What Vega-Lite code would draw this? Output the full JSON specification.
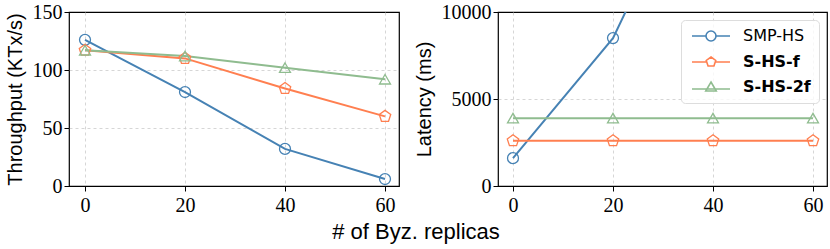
{
  "$schema": "https://vega.github.io/schema/vega-lite/v6.json",
  "padding": {"left": 4, "top": 1, "right": 3, "bottom": 2},
  "background": "white",
  "datasets": {
    "tp": [
      {"x": 0, "v": 126, "s": "SMP-HS"}, {"x": 20, "v": 81, "s": "SMP-HS"}, {"x": 40, "v": 32, "s": "SMP-HS"}, {"x": 60, "v": 6, "s": "SMP-HS"},
      {"x": 0, "v": 117, "s": "S-HS-f"}, {"x": 20, "v": 110, "s": "S-HS-f"}, {"x": 40, "v": 84, "s": "S-HS-f"}, {"x": 60, "v": 60, "s": "S-HS-f"},
      {"x": 0, "v": 117, "s": "S-HS-2f"}, {"x": 20, "v": 112, "s": "S-HS-2f"}, {"x": 40, "v": 102, "s": "S-HS-2f"}, {"x": 60, "v": 92, "s": "S-HS-2f"}
    ],
    "lat": [
      {"x": 0, "v": 1600, "s": "SMP-HS"}, {"x": 20, "v": 8500, "s": "SMP-HS"}, {"x": 40, "v": 20500, "s": "SMP-HS"}, {"x": 60, "v": 33000, "s": "SMP-HS"},
      {"x": 0, "v": 2600, "s": "S-HS-f"}, {"x": 20, "v": 2600, "s": "S-HS-f"}, {"x": 40, "v": 2600, "s": "S-HS-f"}, {"x": 60, "v": 2600, "s": "S-HS-f"},
      {"x": 0, "v": 3900, "s": "S-HS-2f"}, {"x": 20, "v": 3900, "s": "S-HS-2f"}, {"x": 40, "v": 3900, "s": "S-HS-2f"}, {"x": 60, "v": 3900, "s": "S-HS-2f"}
    ]
  },
  "title": {"text": "# of Byz. replicas", "orient": "bottom", "anchor": "middle", "font": "Liberation Sans", "fontSize": 22, "fontWeight": "normal", "color": "black", "offset": 6},
  "config": {
    "view": {"stroke": "black", "strokeWidth": 1.2},
    "axis": {
      "labelFont": "Liberation Serif", "labelFontSize": 20, "labelColor": "black",
      "titleFont": "Liberation Sans", "titleFontSize": 20, "titleFontWeight": "normal", "titleColor": "black",
      "domain": false, "tickColor": "black", "tickSize": 5,
      "gridColor": "#cccccc", "gridDash": [3, 3], "gridWidth": 0.8
    },
    "legend": {
      "labelFont": "DejaVu Sans", "labelFontSize": 16, "labelColor": "black",
      "symbolSize": 100, "symbolStrokeWidth": 1.6, "labelOffset": 24, "rowPadding": 8, "padding": 8,
      "fillColor": "rgba(255,255,255,0.8)", "strokeColor": "#dddddd", "cornerRadius": 4, "symbolOffset": 14
    }
  },
  "spacing": 13,
  "resolve": {"scale": {"color": "independent", "y": "independent"}, "legend": {"color": "independent"}},
  "hconcat": [
    {
      "width": 330, "height": 174,
      "data": {"name": "tp"},
      "encoding": {
        "x": {"field": "x", "type": "quantitative", "scale": {"domain": [-3.2, 62.8], "nice": false}, "axis": {"values": [0, 20, 40, 60], "title": null, "labelPadding": 4}},
        "y": {"field": "v", "type": "quantitative", "scale": {"domain": [0, 150], "nice": false}, "axis": {"values": [0, 50, 100, 150], "title": "Throughput (KTx/s)", "titlePadding": 7, "gridOpacity": {"condition": {"test": "datum.value == 0 || datum.value == 150", "value": 0}, "value": 1}}},
        "color": {"field": "s", "type": "nominal", "scale": {"domain": ["SMP-HS", "S-HS-f", "S-HS-2f"], "range": ["#4682b4", "#ff7f50", "#8fbc8f"]}, "legend": null}
      },
      "layer": [
        {"mark": {"type": "line", "strokeWidth": 2}},
        {"mark": {"type": "point", "filled": false, "size": 120, "strokeWidth": 1.3, "opacity": 1},
         "encoding": {"shape": {"condition": [{"test": "datum.s === 'SMP-HS'", "value": "circle"}, {"test": "datum.s === 'S-HS-f'", "value": "M0,-1.1L1.046,-0.34L0.647,0.89L-0.647,0.89L-1.046,-0.34Z"}], "value": "triangle-up"}}}
      ]
    },
    {
      "width": 329, "height": 174,
      "data": {"name": "lat"},
      "encoding": {
        "x": {"field": "x", "type": "quantitative", "scale": {"domain": [-3, 62.8], "nice": false}, "axis": {"values": [0, 20, 40, 60], "title": null, "labelPadding": 4}},
        "y": {"field": "v", "type": "quantitative", "scale": {"domain": [0, 10000], "nice": false}, "axis": {"values": [0, 5000, 10000], "format": "d", "title": "Latency (ms)", "titlePadding": 7, "gridOpacity": {"condition": {"test": "datum.value == 0 || datum.value == 10000", "value": 0}, "value": 1}}}
      },
      "layer": [
        {"mark": {"type": "line", "strokeWidth": 2, "clip": true},
         "encoding": {
           "color": {"field": "s", "type": "nominal", "scale": {"domain": ["SMP-HS", "S-HS-f", "S-HS-2f"], "range": ["#4682b4", "#ff7f50", "#8fbc8f"]},
             "legend": {"title": null, "orient": "top-right", "offset": 8, "symbolFillColor": "transparent",
               "symbolType": {"expr": "datum.value === 'SMP-HS' ? 'M-3.8,0L-1,0M1,0L3.8,0M1,0A1,1 0 1,1 -1,0A1,1 0 1,1 1,0' : datum.value === 'S-HS-f' ? 'M-3.8,0L-0.95,0M0.95,0L3.8,0M0,-1L0.951,-0.309L0.588,0.809L-0.588,0.809L-0.951,-0.309Z' : 'M-3.8,0.4L3.8,0.4M0,-1L1.05,0.8L-1.05,0.8Z'"},
               "encode": {
                 "labels": {"update": {"fontWeight": {"signal": "datum.value === 'SMP-HS' ? 'normal' : 'bold'"}}}
               }}}
         }},
        {"mark": {"type": "point", "filled": false, "size": 120, "strokeWidth": 1.3, "opacity": 1, "clip": true},
         "encoding": {
           "color": {"field": "s", "type": "nominal", "scale": {"domain": ["SMP-HS", "S-HS-f", "S-HS-2f"], "range": ["#4682b4", "#ff7f50", "#8fbc8f"]}, "legend": null},
           "shape": {"condition": [{"test": "datum.s === 'SMP-HS'", "value": "circle"}, {"test": "datum.s === 'S-HS-f'", "value": "M0,-1.1L1.046,-0.34L0.647,0.89L-0.647,0.89L-1.046,-0.34Z"}], "value": "triangle-up"}
         }}
      ]
    }
  ]
}
